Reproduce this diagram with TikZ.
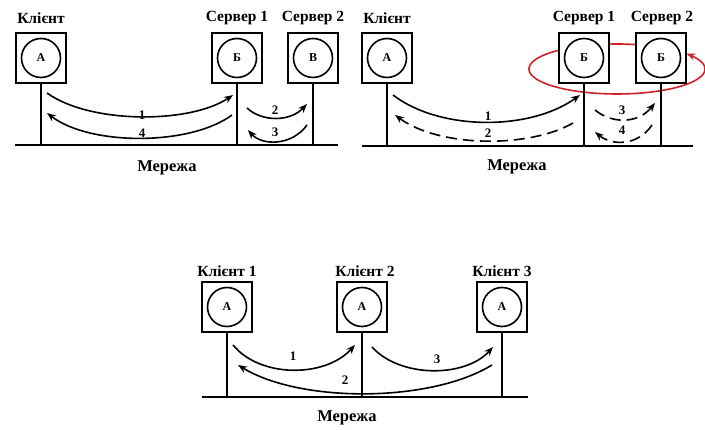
\documentclass[tikz,border=0pt]{standalone}
\usepackage{fontspec}
\setmainfont{Liberation Serif}
\usetikzlibrary{arrows.meta}
\definecolor{ringred}{RGB}{205,35,40}
\begin{document}
\begin{tikzpicture}[x=1pt,y=-1pt,
  host/.style={draw,line width=1.8pt,fill=white,minimum width=50pt,minimum height=50pt,inner sep=0pt},
  circ/.style={draw,line width=1.6pt,circle,minimum size=39pt,inner sep=0pt,font=\bfseries\fontsize{12}{12}\selectfont},
  ttl/.style={font=\bfseries\fontsize{15.5}{15.5}\selectfont},
  mtl/.style={font=\bfseries\fontsize{16.5}{16.5}\selectfont},
  net/.style={line width=1.8pt},
  arr/.style={line width=1.6pt,-{Stealth[length=9pt,width=7pt]}},
  darr/.style={arr,dash pattern=on 11pt off 6pt},
  num/.style={font=\bfseries\fontsize{13}{13}\selectfont,inner sep=1pt}]
\useasboundingbox (0,0) rectangle (705,430);

% ===== Panel 1 =====
\node[host] (c1) at (41,58) {};
\node[circ] (c1a) at (41,58) {А};
\node[host] (s1) at (237,58) {};
\node[circ] (s1a) at (237,58) {Б};
\node[host] (s2) at (313,58) {};
\node[circ] (s2a) at (313,58) {В};
\node[ttl] (c1t) at (41,18) {Клієнт};
\node[ttl] (s1t) at (237,18) {Сервер 1};
\node[ttl] (s2t) at (313,18) {Сервер 2};
\coordinate (n1l) at (15,145);
\coordinate (n1r) at (338,145);
\draw[net] (n1l) -- (n1r);
\draw[net] (c1.south) -- (c1.south |- n1l);
\draw[net] (s1.south) -- (s1.south |- n1l);
\draw[net] (s2.south) -- (s2.south |- n1l);
\node[mtl] (m1) at (167,168) {Мережа};
\coordinate (p1a) at (47,93);  \coordinate (p1b) at (233,95);
\draw[arr] (p1a) .. controls (90,124) and (190,124) .. (p1b);
\node[num] (l1) at (142,115) {1};
\coordinate (p4a) at (232,115); \coordinate (p4b) at (47,113);
\draw[arr] (p4a) .. controls (190,146) and (90,146) .. (p4b);
\node[num] (l4) at (142,133) {4};
\coordinate (p2a) at (247,108); \coordinate (p2b) at (307,104);
\draw[arr] (p2a) .. controls (262,122) and (290,122) .. (p2b);
\node[num] (l2) at (275,110) {2};
\coordinate (p3a) at (307,125); \coordinate (p3b) at (248,130);
\draw[arr] (p3a) .. controls (292,146) and (262,146) .. (p3b);
\node[num] (l3) at (275,132) {3};

% ===== Panel 2 =====
\draw[ringred,line width=1.6pt,-{Stealth[length=9pt,width=7pt]}]
  plot[domain=70:398,samples=120] ({617+88*cos(\x)},{69-25*sin(\x)});
\node[host] (d1) at (387,58) {};
\node[circ] (d1a) at (387,58) {А};
\node[host] (e1) at (584,58) {};
\node[circ] (e1a) at (584,58) {Б};
\node[host] (e2) at (661,58) {};
\node[circ] (e2a) at (661,58) {Б};
\node[ttl] (d1t) at (387,18) {Клієнт};
\node[ttl] (e1t) at (584,18) {Сервер 1};
\node[ttl] (e2t) at (662,18) {Сервер 2};
\coordinate (n2l) at (362,146);
\coordinate (n2r) at (693,146);
\draw[net] (n2l) -- (n2r);
\draw[net] (d1.south) -- (d1.south |- n2l);
\draw[net] (e1.south) -- (e1.south |- n2l);
\draw[net] (e2.south) -- (e2.south |- n2l);
\node[mtl] (m2) at (517,167) {Мережа};
\coordinate (q1a) at (393,95); \coordinate (q1b) at (580,95);
\draw[arr] (q1a) .. controls (440,131) and (530,131) .. (q1b);
\node[num] (k1) at (488,116) {1};
\coordinate (q2a) at (573,123); \coordinate (q2b) at (395,115);
\draw[darr] (q2a) .. controls (530,148) and (440,148) .. (q2b);
\node[num] (k2) at (488,133) {2};
\coordinate (q3a) at (595,110); \coordinate (q3b) at (655,103);
\draw[darr] (q3a) .. controls (612,124) and (638,124) .. (q3b);
\node[num] (k3) at (622,110) {3};
\coordinate (q4a) at (652,125); \coordinate (q4b) at (595,132);
\draw[darr] (q4a) .. controls (638,146) and (612,146) .. (q4b);
\node[num] (k4) at (622,130) {4};

% ===== Panel 3 =====
\node[host] (f1) at (227,307) {};
\node[circ] (f1a) at (227,307) {А};
\node[host] (f2) at (362,307) {};
\node[circ] (f2a) at (362,307) {А};
\node[host] (f3) at (502,307) {};
\node[circ] (f3a) at (502,307) {А};
\node[ttl] (f1t) at (227,271) {Клієнт 1};
\node[ttl] (f2t) at (365,271) {Клієнт 2};
\node[ttl] (f3t) at (502,271) {Клієнт 3};
\coordinate (n3l) at (202,397);
\coordinate (n3r) at (528,397);
\draw[net] (n3l) -- (n3r);
\draw[net] (f1.south) -- (f1.south |- n3l);
\draw[net] (f2.south) -- (f2.south |- n3l);
\draw[net] (f3.south) -- (f3.south |- n3l);
\node[mtl] (m3) at (347,418) {Мережа};
\coordinate (r1a) at (233,345); \coordinate (r1b) at (355,345);
\draw[arr] (r1a) .. controls (260,378) and (325,378) .. (r1b);
\node[num] (h1) at (293,356) {1};
\coordinate (r3a) at (372,347); \coordinate (r3b) at (493,347);
\draw[arr] (r3a) .. controls (400,378) and (465,378) .. (r3b);
\node[num] (h3) at (437,359) {3};
\coordinate (r2a) at (492,365); \coordinate (r2b) at (238,365);
\draw[arr] (r2a) .. controls (430,403) and (300,403) .. (r2b);
\node[num] (h2) at (345,380) {2};
\end{tikzpicture}
\end{document}
